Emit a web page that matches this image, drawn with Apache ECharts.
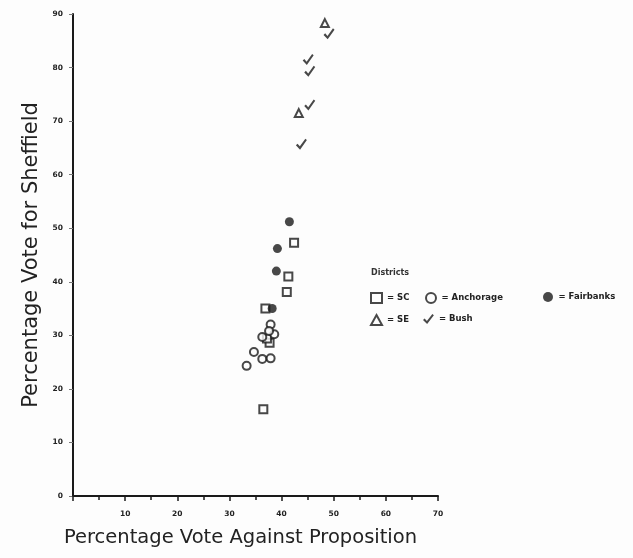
<!DOCTYPE html>
<html>
<head>
<meta charset="utf-8">
<script src="https://cdn.jsdelivr.net/npm/echarts@6/dist/echarts.min.js"></script>
<style>
  html, body { margin: 0; padding: 0; background: #fdfdfd; }
  #main { width: 633px; height: 558px; }
</style>
</head>
<body>
<div id="main"></div>
<script>
// values: [percent against proposition, percent for Sheffield]
var scPoints = [[42.4, 47.3], [41.3, 41.0], [41.0, 38.1], [36.9, 35.0], [36.5, 16.2], [37.7, 28.6], [37.2, 29.4]];
var anchoragePoints = [[37.9, 32.0], [36.3, 29.7], [38.6, 30.2], [37.6, 30.8], [34.7, 26.9], [36.3, 25.6], [37.9, 25.7], [33.3, 24.3]];
var fairbanksPoints = [[41.5, 51.2], [39.2, 46.2], [39.0, 42.0], [38.2, 35.0]];
var sePoints = [[48.3, 88.3], [43.3, 71.5]];
var bushPoints = [[49.1, 86.3], [45.1, 81.5], [45.4, 79.3], [45.4, 73.0], [43.8, 65.7]];
var xTicks = [0, 10, 20, 30, 40, 50, 60, 70];
var yTicks = [0, 10, 20, 30, 40, 50, 60, 70, 80, 90];

var ink = '#1a1a1a';
var checkPath = 'path://M0,55 L15,42 L36,64 L86,0 L100,11 L38,92 Z';
var hollow = { color: '#fdfdfd', borderColor: ink, borderWidth: 2 };
var labelFont = { fontFamily: 'DejaVu Sans', fontSize: 7.5, fontWeight: 'bold', color: '#222' };
var legendFont = { fontFamily: 'DejaVu Sans', fontSize: 8.5, fontWeight: 'bold', color: '#222' };

// one legend box per entry so the gaps can follow the original layout
function legendAt(name, left, top) {
  return {
    data: [name], left: left, top: top,
    itemWidth: 11, itemHeight: 10,
    formatter: function (n) { return '= ' + n; },
    textStyle: legendFont
  };
}

var dom = document.getElementById('main');
var myChart = echarts.init(dom, null, { renderer: 'canvas' });

var option = {
  backgroundColor: '#fdfdfd',
  animation: false,
  grid: { left: 73, right: 195, top: 14, bottom: 62 },
  title: {
    text: 'Districts',
    left: 366, top: 264,
    textStyle: { fontFamily: 'DejaVu Sans', fontSize: 8, fontWeight: 'bold', color: '#333' }
  },
  legend: [
    legendAt('SC', 365, 287),
    legendAt('Anchorage', 420, 287),
    legendAt('Fairbanks', 538, 287),
    legendAt('SE', 365, 309),
    legendAt('Bush', 418, 309)
  ],
  xAxis: {
    type: 'value',
    min: xTicks[0], max: xTicks[xTicks.length - 1], interval: 10,
    name: 'Percentage Vote Against Proposition',
    nameLocation: 'middle', nameGap: 32,
    nameTextStyle: { fontFamily: 'DejaVu Sans', fontSize: 19.5, color: '#222', padding: [0, 30, 0, 0] },
    splitLine: { show: false },
    axisLine: { lineStyle: { color: ink, width: 2 } },
    axisTick: { show: true, length: 5, lineStyle: { color: ink, width: 1.5 } },
    minorTick: { show: true, splitNumber: 2, length: 4, lineStyle: { color: ink, width: 1.5 } },
    axisLabel: Object.assign({ margin: 14, formatter: function (v) { return v === 0 ? '' : v; } }, labelFont)
  },
  yAxis: {
    type: 'value',
    min: yTicks[0], max: yTicks[yTicks.length - 1], interval: 10,
    name: 'Percentage Vote for Sheffield',
    nameLocation: 'middle', nameGap: 18,
    nameTextStyle: { fontFamily: 'DejaVu Sans', fontSize: 21, color: '#222' },
    splitLine: { show: false },
    axisLine: { lineStyle: { color: ink, width: 2 } },
    axisTick: { show: true, length: 4, lineStyle: { color: '#777', width: 1 } },
    axisLabel: Object.assign({ margin: 10 }, labelFont)
  },
  series: [
    { name: 'SC', type: 'scatter', symbol: 'rect', symbolSize: 8, data: scPoints, itemStyle: hollow },
    { name: 'Anchorage', type: 'scatter', symbol: 'circle', symbolSize: 8, data: anchoragePoints, itemStyle: hollow },
    { name: 'Fairbanks', type: 'scatter', symbol: 'circle', symbolSize: 9, data: fairbanksPoints, itemStyle: { color: ink } },
    { name: 'SE', type: 'scatter', symbol: 'triangle', symbolSize: 8, data: sePoints, itemStyle: hollow },
    { name: 'Bush', type: 'scatter', symbol: checkPath, symbolSize: [11, 11], data: bushPoints, itemStyle: { color: ink } }
  ]
};

if (option && typeof option === 'object') {
  myChart.setOption(option);
}

window.addEventListener('resize', myChart.resize);
</script>
</body>
</html>
